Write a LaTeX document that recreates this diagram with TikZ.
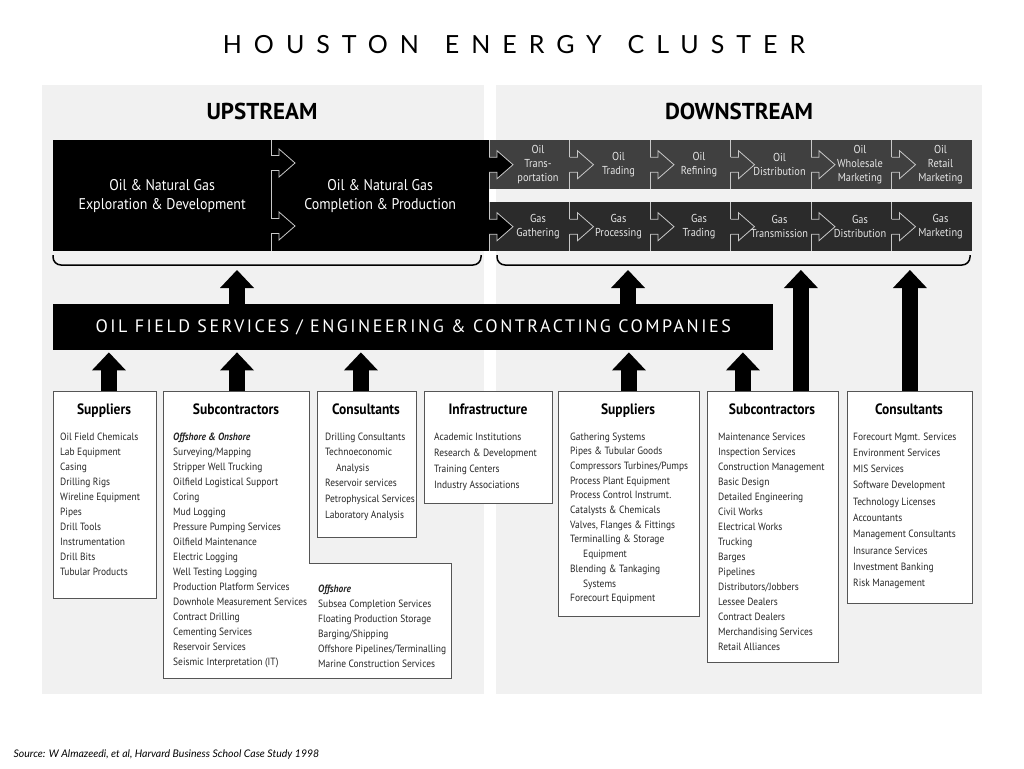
\documentclass[tikz,border=0pt]{standalone}
\usepackage{fontspec}
\setmainfont{PT Sans}
\newfontfamily\condfont[FakeStretch=0.9]{PT Sans}
\newfontfamily\titlefont[LetterSpace=48,WordSpace=1.4]{Lato}
\newfontfamily\capsfont[LetterSpace=14]{PT Sans}
\newfontfamily\notefont{Lato}
\usetikzlibrary{arrows.meta,positioning}

\definecolor{panelgray}{HTML}{F1F1F1}
\definecolor{oilrow}{HTML}{404040}
\definecolor{gasrow}{HTML}{2B2B2B}
\definecolor{tabline}{HTML}{C8C8C8}
\definecolor{boxline}{HTML}{555555}

\tikzset{
  heading/.style={font=\bfseries\fontsize{23}{27}\selectfont},
  stage/.style={anchor=north west, fill=black, text=white, minimum height=111pt, inner sep=0pt,
    align=center, font=\condfont\fontsize{15.5}{19}\selectfont},
  cell/.style={anchor=north west, minimum width=80.5pt, minimum height=49pt, inner sep=0pt},
  celltext/.style={text=white!90!black, align=center, inner sep=0pt, font=\condfont\fontsize{11.5}{14}\selectfont},
  brace/.style={line width=1.5pt, rounded corners=8pt},
  ofs/.style={anchor=north west, fill=black, text=white, minimum width=720pt, minimum height=46pt,
    font=\capsfont\fontsize{18}{20}\selectfont},
  listbox/.style={anchor=north west, draw=boxline, fill=white, line width=0.8pt, inner sep=0pt},
  boxtitle/.style={anchor=base, font=\condfont\bfseries\fontsize{15}{17}\selectfont},
  itemtext/.style={anchor=base west, inner sep=0pt, text=black!85, font=\condfont\fontsize{10.5}{12}\selectfont},
  fatarrow/.style={line width=16pt, shorten >=2pt, -{Triangle[width=34pt,length=18pt,line width=0pt]}},
  pics/tabarrow/.style={code={
    \fill[#1] (-0.8,-7.5) -- (8,-7.5) -- (8,-14) -- (24,0) -- (8,14) -- (8,7.5) -- (-0.8,7.5) -- cycle;
    \draw[tabline, line width=0.8pt] (0,-7.5) -- (8,-7.5) -- (8,-14) -- (24,0) -- (8,14) -- (8,7.5) -- (0,7.5);
  }},
}

\newcommand\itemcol[5]{%
  \foreach \itm [count=\i from 0] in {#5}
    \node[itemtext] (#1-\i) at (#2, #3+#4*\i) {\itm};%
}

\begin{document}
\begin{tikzpicture}[x=1pt,y=-1pt]
\useasboundingbox[fill=white] (0,0) rectangle (1024,768);

\fill[panelgray] (42,85) rectangle (484,694);
\fill[panelgray] (496,85) rectangle (982,694);

\node[font=\titlefont\fontsize{25}{28}\selectfont] (title) at (514,45) {HOUSTON ENERGY CLUSTER};
\node[heading] (up) at (262,111) {UPSTREAM};
\node[heading] (down) at (739,111) {DOWNSTREAM};

% upstream chain
\node[stage, minimum width=218pt] (explore) at (53,140) {Oil \& Natural Gas\\Exploration \& Development};
\node[stage, minimum width=218pt] (complete) at (271,140) {Oil \& Natural Gas\\Completion \& Production};
\draw[tabline, line width=0.8pt] (complete.north west) -- (complete.south west);
\pic at (271,163) {tabarrow=black};
\pic at (271,226) {tabarrow=black};

% downstream chain
\foreach \lbl [count=\i from 0] in {{Oil\\Trans-\\portation},{Oil\\Trading},{Oil\\Refining},
    {Oil\\Distribution},{Oil\\Wholesale\\Marketing},{Oil\\Retail\\Marketing}}{
  \ifnum\i=0 \def\tabfill{black}\else\def\tabfill{oilrow}\fi
  \node[cell, fill=oilrow] (oil\i) at (489+80.5*\i,140) {};
  \draw[tabline, line width=0.8pt] (oil\i.north west) -- (oil\i.south west);
  \pic at (oil\i.west) {tabarrow=\tabfill};
  \node[celltext] (oiltxt\i) at ([xshift=49pt]oil\i.west) {\lbl};
}
\foreach \lbl [count=\i from 0] in {{Gas\\Gathering},{Gas\\Processing},{Gas\\Trading},
    {Gas\\Transmission},{Gas\\Distribution},{Gas\\Marketing}}{
  \ifnum\i=0 \def\tabfill{black}\else\def\tabfill{gasrow}\fi
  \node[cell, fill=gasrow] (gas\i) at (489+80.5*\i,202) {};
  \draw[tabline, line width=0.8pt] (gas\i.north west) -- (gas\i.south west);
  \pic at (gas\i.west) {tabarrow=\tabfill};
  \node[celltext] (gastxt\i) at ([xshift=49pt]gas\i.west) {\lbl};
}

\draw[brace] (53,255) -- (53,265) -- (481,265) -- (481,255);
\draw[brace] (497,255) -- (497,265) -- (970,265) -- (970,255);
\coordinate (upbrace) at (237,268);
\coordinate (downbrace) at (628,268);

\node[ofs] (ofs) at (53,304) {OIL FIELD SERVICES / ENGINEERING \& CONTRACTING COMPANIES};

% boxes
\node[listbox, minimum width=103pt, minimum height=207pt] (usup) at (53,391) {};
\draw[draw=boxline, fill=white, line width=0.8pt] (163,391) -- (309,391) -- (309,563) -- (451,563)
  -- (451,678) -- (163,678) -- cycle;
\coordinate (usub) at (237,391);
\node[listbox, minimum width=99pt, minimum height=146pt] (ucon) at (317,391) {};
\node[listbox, minimum width=128pt, minimum height=112pt] (infra) at (424,391) {};
\node[listbox, minimum width=141pt, minimum height=225pt] (dsup) at (558,391) {};
\node[listbox, minimum width=131pt, minimum height=271pt] (dsub) at (707,391) {};
\node[listbox, minimum width=125pt, minimum height=212pt] (dcon) at (847,391) {};

\node[boxtitle] (usup-t) at (104,414) {Suppliers};
\node[boxtitle] (usub-t) at (236,414) {Subcontractors};
\node[boxtitle] (ucon-t) at (366,414) {Consultants};
\node[boxtitle] (infra-t) at (488,414) {Infrastructure};
\node[boxtitle] (dsup-t) at (628,414) {Suppliers};
\node[boxtitle] (dsub-t) at (772,414) {Subcontractors};
\node[boxtitle] (dcon-t) at (909,414) {Consultants};

\itemcol{usup}{60}{440}{15}{Oil Field Chemicals, Lab Equipment, Casing, Drilling Rigs, Wireline Equipment,
  Pipes, Drill Tools, Instrumentation, Drill Bits, Tubular Products}
\itemcol{usub}{173}{440}{15}{\textbf{\textit{Offshore \& Onshore}}, Surveying/Mapping, Stripper Well Trucking,
  Oilfield Logistical Support, Coring, Mud Logging, Pressure Pumping Services, Oilfield Maintenance,
  Electric Logging, Well Testing Logging, Production Platform Services, Downhole Measurement Services,
  Contract Drilling, Cementing Services, Reservoir Services, Seismic Interpretation (IT)}
\itemcol{uoff}{318}{592}{15}{\textbf{\textit{Offshore}}, Subsea Completion Services, Floating Production Storage,
  Barging/Shipping, Offshore Pipelines/Terminalling, Marine Construction Services}
\itemcol{ucon}{325}{440}{15.6}{Drilling Consultants, Technoeconomic, \hspace*{11pt}Analysis, Reservoir services,
  Petrophysical Services, Laboratory Analysis}
\itemcol{infra}{434}{440}{16.3}{Academic Institutions, Research \& Development, Training Centers,
  Industry Associations}
\itemcol{dsup}{570}{440}{14.7}{Gathering Systems, Pipes \& Tubular Goods, Compressors Turbines/Pumps,
  Process Plant Equipment, Process Control Instrumt., Catalysts \& Chemicals, {Valves, Flanges \& Fittings},
  Terminalling \& Storage, \hspace*{13pt}Equipment, Blending \& Tankaging, \hspace*{13pt}Systems,
  Forecourt Equipment}
\itemcol{dsub}{718}{440}{15}{Maintenance Services, Inspection Services, Construction Management, Basic Design,
  Detailed Engineering, Civil Works, Electrical Works, Trucking, Barges, Pipelines, Distributors/Jobbers,
  Lessee Dealers, Contract Dealers, Merchandising Services, Retail Alliances}
\itemcol{dcon}{853}{440}{16.3}{Forecourt Mgmt. Services, Environment Services, MIS Services,
  Software Development, Technology Licenses, Accountants, Management Consultants, Insurance Services,
  Investment Banking, Risk Management}

% block arrows
\draw[fatarrow] (ofs.north -| upbrace) -- (upbrace);
\draw[fatarrow] (ofs.north -| downbrace) -- (downbrace);
\draw[fatarrow] ([xshift=4pt]usup.north) -- ([xshift=4pt]usup.north |- ofs.south);
\draw[fatarrow] (usub) -- (usub |- ofs.south);
\draw[fatarrow] ([xshift=-6pt]ucon.north) -- ([xshift=-6pt]ucon.north |- ofs.south);
\draw[fatarrow] (dsup.north) -- (dsup.north |- ofs.south);
\draw[fatarrow] ([xshift=-30pt]dsub.north) -- ([xshift=-30pt]dsub.north |- ofs.south);
\draw[fatarrow] ([xshift=28pt]dsub.north) -- ([xshift=28pt]dsub.north |- downbrace);
\draw[fatarrow] (dcon.north) -- (dcon.north |- downbrace);

\node[anchor=west, font=\notefont\itshape\fontsize{10.5}{12}\selectfont] (source) at (10,755)
  {Source: W Almazeedi, et al, Harvard Business School Case Study 1998};

\end{tikzpicture}
\end{document}
